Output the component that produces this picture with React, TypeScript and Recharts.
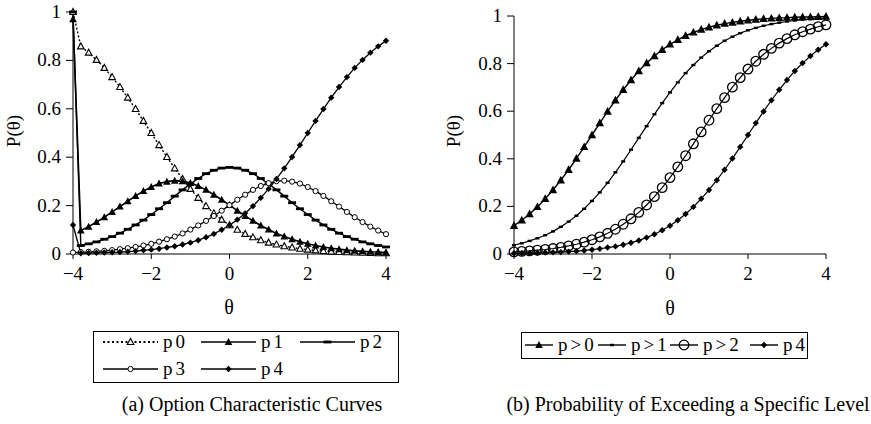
import { LineChart, Line, XAxis, YAxis } from 'recharts'

// theta grid, -4 .. 4 step 0.2
const THETA = [
  -4, -3.8, -3.6, -3.4, -3.2, -3, -2.8, -2.6, -2.4, -2.2, -2, -1.8, -1.6, -1.4, -1.2, -1, -0.8, -0.6, -0.4, -0.2,
  0, 0.2, 0.4, 0.6, 0.8, 1, 1.2, 1.4, 1.6, 1.8, 2, 2.2, 2.4, 2.6, 2.8, 3, 3.2, 3.4, 3.6, 3.8, 4,
]

// (a) option characteristic curves
const P0 = [
  1, 0.858, 0.832, 0.802, 0.769, 0.731, 0.69, 0.646, 0.599, 0.55, 0.5, 0.45, 0.401, 0.354, 0.31, 0.269, 0.232, 0.198, 0.168, 0.142,
  0.119, 0.1, 0.083, 0.069, 0.057, 0.047, 0.039, 0.032, 0.027, 0.022, 0.018, 0.015, 0.012, 0.01, 0.008, 0.007, 0.006, 0.005, 0.004, 0.003, 0.003,
]
const P1 = [
  0.97, 0.097, 0.113, 0.132, 0.152, 0.174, 0.196, 0.218, 0.24, 0.26, 0.277, 0.291, 0.299, 0.303, 0.301, 0.293, 0.281, 0.265, 0.245, 0.224,
  0.202, 0.179, 0.157, 0.137, 0.118, 0.101, 0.085, 0.072, 0.061, 0.051, 0.042, 0.035, 0.029, 0.024, 0.02, 0.016, 0.013, 0.011, 0.009, 0.008, 0.006,
]
const P2 = [
  1, 0.035, 0.042, 0.05, 0.061, 0.072, 0.086, 0.102, 0.12, 0.14, 0.163, 0.187, 0.212, 0.239, 0.265, 0.29, 0.312, 0.332, 0.346, 0.355,
  0.358, 0.355, 0.346, 0.332, 0.312, 0.29, 0.265, 0.239, 0.212, 0.187, 0.163, 0.14, 0.12, 0.102, 0.086, 0.072, 0.061, 0.05, 0.042, 0.035, 0.029,
]
const P3 = [
  0.006, 0.008, 0.009, 0.011, 0.013, 0.016, 0.02, 0.024, 0.029, 0.035, 0.042, 0.051, 0.061, 0.072, 0.085, 0.101, 0.118, 0.137, 0.157, 0.179,
  0.202, 0.224, 0.245, 0.265, 0.281, 0.293, 0.301, 0.303, 0.299, 0.291, 0.277, 0.26, 0.24, 0.218, 0.196, 0.174, 0.152, 0.132, 0.113, 0.097, 0.082,
]
const P4 = [
  0.12, 0.003, 0.004, 0.005, 0.006, 0.007, 0.008, 0.01, 0.012, 0.015, 0.018, 0.022, 0.027, 0.032, 0.039, 0.047, 0.057, 0.069, 0.083, 0.1,
  0.119, 0.142, 0.168, 0.198, 0.232, 0.269, 0.31, 0.354, 0.401, 0.45, 0.5, 0.55, 0.599, 0.646, 0.69, 0.731, 0.769, 0.802, 0.832, 0.858, 0.881,
]

// (b) probability of exceeding a level
const GT0 = [
  0.119, 0.142, 0.168, 0.198, 0.232, 0.269, 0.31, 0.354, 0.401, 0.45, 0.5, 0.55, 0.599, 0.646, 0.69, 0.731, 0.769, 0.802, 0.832, 0.858,
  0.881, 0.9, 0.917, 0.931, 0.943, 0.953, 0.961, 0.968, 0.973, 0.978, 0.982, 0.985, 0.988, 0.99, 0.992, 0.993, 0.995, 0.996, 0.996, 0.997, 0.998,
]
const GT1 = [
  0.037, 0.045, 0.055, 0.066, 0.079, 0.095, 0.114, 0.136, 0.161, 0.19, 0.223, 0.259, 0.299, 0.343, 0.389, 0.438, 0.488, 0.537, 0.587, 0.634,
  0.679, 0.721, 0.76, 0.794, 0.825, 0.852, 0.875, 0.896, 0.913, 0.928, 0.94, 0.95, 0.959, 0.966, 0.972, 0.977, 0.981, 0.985, 0.987, 0.99, 0.991,
]
const GT2 = [
  0.009, 0.011, 0.013, 0.016, 0.019, 0.023, 0.028, 0.034, 0.041, 0.05, 0.06, 0.072, 0.087, 0.104, 0.125, 0.148, 0.175, 0.206, 0.241, 0.279,
  0.321, 0.366, 0.413, 0.463, 0.513, 0.562, 0.611, 0.657, 0.701, 0.741, 0.777, 0.81, 0.839, 0.864, 0.886, 0.905, 0.921, 0.934, 0.945, 0.955, 0.963,
]
const PP4 = [
  0.003, 0.003, 0.004, 0.005, 0.006, 0.007, 0.008, 0.01, 0.012, 0.015, 0.018, 0.022, 0.027, 0.032, 0.039, 0.047, 0.057, 0.069, 0.083, 0.1,
  0.119, 0.142, 0.168, 0.198, 0.232, 0.269, 0.31, 0.354, 0.401, 0.45, 0.5, 0.55, 0.599, 0.646, 0.69, 0.731, 0.769, 0.802, 0.832, 0.858, 0.881,
]

const X_TICKS = [-4, -2, 0, 2, 4]
const Y_TICKS = [0, 0.2, 0.4, 0.6, 0.8, 1]

const FONT = 'Liberation Serif'
const TICK_FS = 19

const leftData = THETA.map((t, i) => ({ t, p0: P0[i], p1: P1[i], p2: P2[i], p3: P3[i], p4: P4[i] }))
const rightData = THETA.map((t, i) => ({ t, gt0: GT0[i], gt1: GT1[i], gt2: GT2[i], p4: PP4[i] }))

type Shape = 'openTri' | 'tri' | 'bigTri' | 'dash' | 'tinyDash' | 'circle' | 'bigCircle' | 'diamond'

function Marker({ shape, cx, cy }: { shape: Shape; cx: number; cy: number }) {
  switch (shape) {
    case 'openTri':
      return <polygon points={`${cx},${cy - 3.5} ${cx - 3.3},${cy + 2.5} ${cx + 3.3},${cy + 2.5}`} fill="#fff" stroke="#000" strokeWidth={1.1} />
    case 'tri':
      return <polygon points={`${cx},${cy - 4} ${cx - 3.8},${cy + 3} ${cx + 3.8},${cy + 3}`} fill="#000" />
    case 'bigTri':
      return <polygon points={`${cx},${cy - 4.5} ${cx - 4.2},${cy + 3.2} ${cx + 4.2},${cy + 3.2}`} fill="#000" />
    case 'dash':
      return <rect x={cx - 4} y={cy - 1.4} width={8} height={2.8} fill="#000" />
    case 'tinyDash':
      return <rect x={cx - 2} y={cy - 1.2} width={4} height={2.4} fill="#000" />
    case 'circle':
      return <circle cx={cx} cy={cy} r={2.6} fill="#fff" stroke="#000" strokeWidth={1} />
    case 'bigCircle':
      return <circle cx={cx} cy={cy} r={4.8} fill="none" stroke="#000" strokeWidth={1.3} />
    case 'diamond':
      return <polygon points={`${cx},${cy - 3.2} ${cx + 3.2},${cy} ${cx},${cy + 3.2} ${cx - 3.2},${cy}`} fill="#000" />
  }
  return null
}

const dotFor = (shape: Shape) => (props: any) => (
  <g key={`d-${props.index}`}>
    <Marker shape={shape} cx={props.cx} cy={props.cy} />
  </g>
)

const fmtX = (v: number) => (v < 0 ? `\u2212${Math.abs(v)}` : String(v))

function XTick(props: any) {
  const { x, y, payload } = props
  return (
    <text x={x} y={y + 17} textAnchor="middle" fontFamily={FONT} fontSize={TICK_FS} fill="#000">
      {fmtX(payload.value)}
    </text>
  )
}

function YTick(props: any) {
  const { x, y, payload } = props
  return (
    <text x={x - 1} y={y + 6} textAnchor="end" fontFamily={FONT} fontSize={TICK_FS} fill="#000">
      {String(payload.value)}
    </text>
  )
}

function LegendItem({ x, y, len, shape, label, dotted }: { x: number; y: number; len: number; shape: Shape; label: string; dotted?: boolean }) {
  return (
    <div style={{ position: 'absolute', left: x, top: y - 11, height: 22, display: 'flex', alignItems: 'center' }}>
      <svg width={len} height={14} style={{ display: 'block' }}>
        <line x1={0} y1={7} x2={len} y2={7} stroke="#000" strokeWidth={dotted ? 1.8 : 1.4} strokeDasharray={dotted ? '2 2.5' : undefined} />
        <Marker shape={shape} cx={len / 2} cy={7} />
      </svg>
      <span style={{ marginLeft: 5, fontSize: 19, letterSpacing: 3, lineHeight: '22px' }}>{label}</span>
    </div>
  )
}

export default function App() {
  return (
    <div style={{ position: 'relative', width: 871, height: 424, background: '#fff', fontFamily: FONT, color: '#000' }}>
      <style>{'body{margin:0}'}</style>

      {/* (a) */}
      <div style={{ position: 'absolute', left: 0, top: 0 }}>
        <LineChart width={440} height={300} data={leftData} margin={{ top: 12, right: 54, bottom: 16, left: 13 }}>
          <XAxis dataKey="t" type="number" domain={[-4, 4]} ticks={X_TICKS} height={30}
            stroke="#000" tick={<XTick />} tickSize={5} tickMargin={4} />
          <YAxis type="number" domain={[0, 1]} ticks={Y_TICKS} width={60}
            stroke="#000" tick={<YTick />} tickSize={7} tickMargin={4} />
          <Line dataKey="p0" stroke="#000" strokeWidth={1.4} strokeDasharray="2 2" dot={dotFor('openTri')} isAnimationActive={false} />
          <Line dataKey="p1" stroke="#000" strokeWidth={1.6} dot={dotFor('tri')} isAnimationActive={false} />
          <Line dataKey="p2" stroke="#000" strokeWidth={1.4} dot={dotFor('dash')} isAnimationActive={false} />
          <Line dataKey="p3" stroke="#000" strokeWidth={1.3} dot={dotFor('circle')} isAnimationActive={false} />
          <Line dataKey="p4" stroke="#000" strokeWidth={1.3} dot={dotFor('diamond')} isAnimationActive={false} />
        </LineChart>
      </div>

      {/* (b) */}
      <div style={{ position: 'absolute', left: 440, top: 0 }}>
        <LineChart width={440} height={300} data={rightData} margin={{ top: 16, right: 54, bottom: 16, left: 14 }}>
          <XAxis dataKey="t" type="number" domain={[-4, 4]} ticks={X_TICKS} height={30}
            stroke="#000" tick={<XTick />} tickSize={5} tickMargin={4} />
          <YAxis type="number" domain={[0, 1]} ticks={Y_TICKS} width={60}
            stroke="#000" tick={<YTick />} tickSize={7} tickMargin={4} />
          <Line dataKey="gt0" stroke="#000" strokeWidth={1.4} dot={dotFor('bigTri')} isAnimationActive={false} />
          <Line dataKey="gt1" stroke="#000" strokeWidth={1.2} dot={dotFor('tinyDash')} isAnimationActive={false} />
          <Line dataKey="gt2" stroke="#000" strokeWidth={1.2} dot={dotFor('bigCircle')} isAnimationActive={false} />
          <Line dataKey="p4" stroke="#000" strokeWidth={1.2} dot={dotFor('diamond')} isAnimationActive={false} />
        </LineChart>
      </div>

      {/* axis titles */}
      <div style={{ position: 'absolute', left: 219, top: 296, width: 20, textAlign: 'center', fontSize: 20 }}>θ</div>
      <div style={{ position: 'absolute', left: 660, top: 297, width: 20, textAlign: 'center', fontSize: 20 }}>θ</div>
      <div style={{ position: 'absolute', left: -12, top: 120, width: 52, textAlign: 'center', fontSize: 19, transform: 'rotate(-90deg)' }}>P(θ)</div>
      <div style={{ position: 'absolute', left: 428, top: 120, width: 52, textAlign: 'center', fontSize: 19, transform: 'rotate(-90deg)' }}>P(θ)</div>

      {/* legend (a) */}
      <div style={{ position: 'absolute', left: 93, top: 331, width: 306, height: 52, border: '1px solid #000', boxSizing: 'border-box' }} />
      <LegendItem x={103} y={342} len={55} shape="openTri" label="p0" dotted />
      <LegendItem x={201} y={342} len={55} shape="tri" label="p1" />
      <LegendItem x={300} y={342} len={55} shape="dash" label="p2" />
      <LegendItem x={103} y={369} len={55} shape="circle" label="p3" />
      <LegendItem x={201} y={369} len={55} shape="diamond" label="p4" />

      {/* legend (b) */}
      <div style={{ position: 'absolute', left: 521, top: 332, width: 287, height: 27, border: '1px solid #000', boxSizing: 'border-box' }} />
      <LegendItem x={525} y={345} len={28} shape="tri" label="p>0" />
      <LegendItem x={598} y={345} len={28} shape="tinyDash" label="p>1" />
      <LegendItem x={670} y={345} len={28} shape="bigCircle" label="p>2" />
      <LegendItem x={750} y={345} len={28} shape="diamond" label="p4" />

      {/* captions */}
      <div style={{ position: 'absolute', left: 52, top: 393, width: 400, textAlign: 'center', fontSize: 20 }}>(a) Option Characteristic Curves</div>
      <div style={{ position: 'absolute', left: 488, top: 393, width: 400, textAlign: 'center', fontSize: 20 }}>(b) Probability of Exceeding a Specific Level</div>
    </div>
  )
}
